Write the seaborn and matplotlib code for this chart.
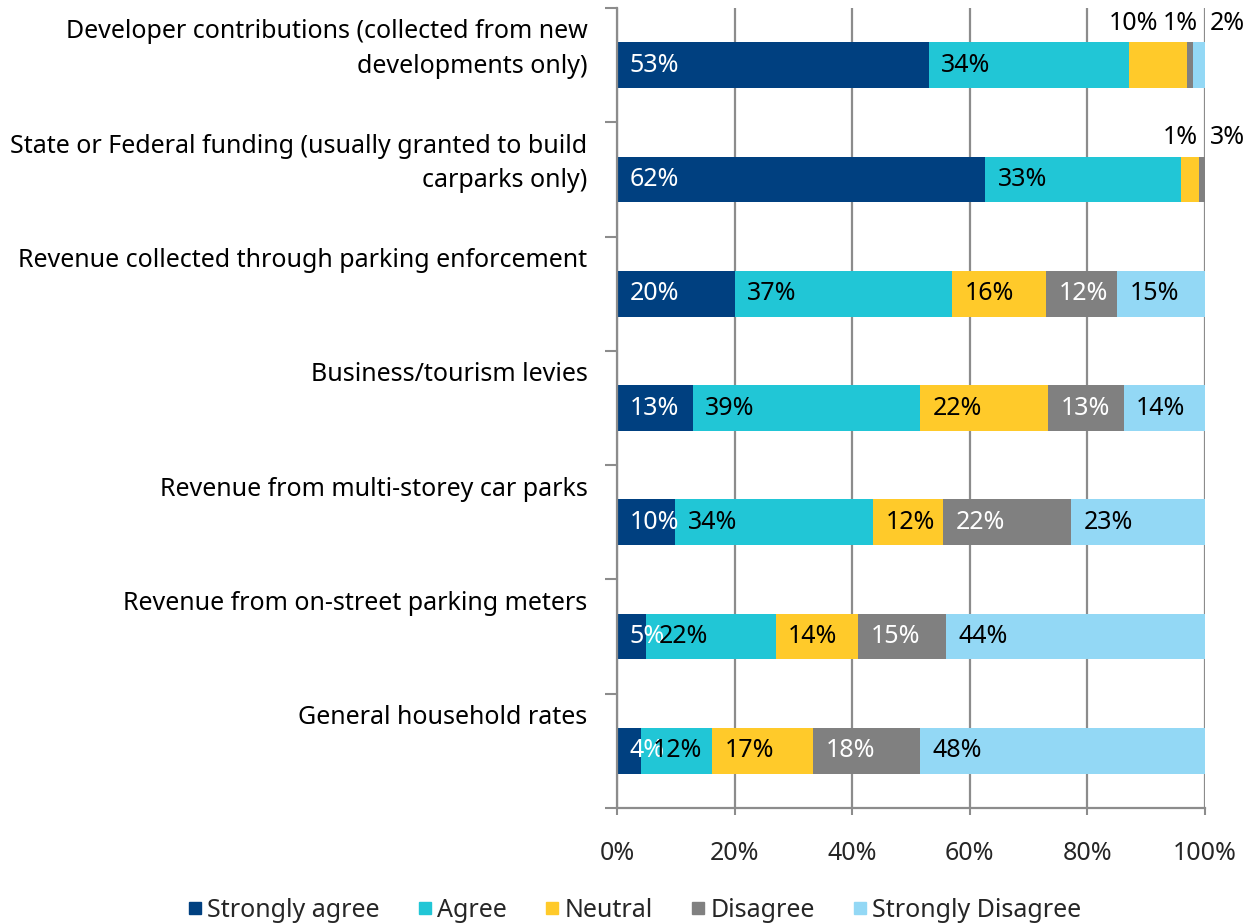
import numpy as np
import pandas as pd
import seaborn as sns
import matplotlib.pyplot as plt
import matplotlib.transforms as mtransforms
from matplotlib.lines import Line2D

# Funding sources rated by respondents (percent of responses)
categories = [
    "Developer contributions (collected from new\ndevelopments only)",
    "State or Federal funding (usually granted to build\ncarparks only)",
    "Revenue collected through parking enforcement",
    "Business/tourism levies",
    "Revenue from multi-storey car parks",
    "Revenue from on-street parking meters",
    "General household rates",
]
strongly_agree = [53, 62, 20, 13, 10, 5, 4]
agree = [34, 33, 37, 39, 34, 22, 12]
neutral = [10, 3, 16, 22, 12, 14, 17]
disagree = [1, 1, 12, 13, 22, 15, 18]
strongly_disagree = [2, 0, 15, 14, 23, 44, 48]

series_names = ["Strongly agree", "Agree", "Neutral", "Disagree", "Strongly Disagree"]
x_ticks = [0, 20, 40, 60, 80, 100]
x_tick_labels = ["0%", "20%", "40%", "60%", "80%", "100%"]

colors = ["#004080", "#21C6D6", "#FFCA2A", "#808080", "#93D8F5"]
text_colors = ["white", "black", "black", "white", "black"]

sns.set_theme(style="white")
plt.rcParams["font.family"] = ["Noto Sans", "DejaVu Sans"]
FS = 18
GRID = "#8C8C8C"

df = pd.DataFrame(
    {n: v for n, v in zip(series_names,
                          [strongly_agree, agree, neutral, disagree, strongly_disagree])},
    index=categories,
)
shares = df.div(df.sum(axis=1), axis=0) * 100
cum = shares.cumsum(axis=1)
starts = cum - shares

fig = plt.figure(figsize=(12.6, 9.23), dpi=100)
ax = fig.add_axes([0.4897, 0.1246, 0.4667, 0.8667])

# stacked bars: draw cumulative totals from the outermost segment inward
for name, col in reversed(list(zip(series_names, colors))):
    sns.barplot(x=cum[name].values, y=categories, orient="h", color=col,
                saturation=1, width=0.4, errorbar=None, linewidth=0, ax=ax)

ax.set_xlim(0, 100)
ax.set_ylim(len(categories) - 0.5, -0.5)
ax.set_xticks(x_ticks)
ax.set_xticklabels(x_tick_labels, fontsize=FS)
ax.xaxis.grid(True, color=GRID, linewidth=1.6)
ax.set_axisbelow(True)
ax.set_xlabel("")
ax.set_ylabel("")

# y ticks on category boundaries, labels drawn separately
ax.set_yticks(np.arange(-0.5, len(categories), 1.0))
ax.set_yticklabels([])
ax.tick_params(axis="y", direction="out", length=9, width=1.5, color=GRID, left=True)
ax.tick_params(axis="x", direction="out", length=5, width=1.5, color=GRID,
               bottom=True, pad=19)

for side in ["top", "right"]:
    ax.spines[side].set_visible(False)
for side in ["left", "bottom"]:
    ax.spines[side].set_color(GRID)
    ax.spines[side].set_linewidth(1.6)

blend = mtransforms.blended_transform_factory(ax.transAxes, ax.transData)
for i, cat in enumerate(categories):
    ax.text(-0.05, i - 0.5 + 0.1, cat, transform=blend, ha="right", va="top",
            multialignment="right", fontsize=FS, linespacing=1.5, color="black")

# labels of thin segments sit above the bar, near its right end
outside = {
    (0, "Neutral"): ("right", -34),
    (0, "Disagree"): ("right", -5),
    (0, "Strongly Disagree"): ("left", 3.5),
    (1, "Neutral"): ("left", 3.5),
    (1, "Disagree"): ("right", -5),
}

for i, cat in enumerate(categories):
    for j, name in enumerate(series_names):
        v = df.loc[cat, name]
        if v == 0:
            continue
        label = f"{v}%"
        if (i, name) in outside:
            ha, dx = outside[(i, name)]
            ax.annotate(label, xy=(100, i), xytext=(dx, 30), textcoords="offset points",
                        ha=ha, va="center", fontsize=FS, color="black",
                        annotation_clip=False)
        else:
            ax.annotate(label, xy=(starts.loc[cat, name], i), xytext=(9, 0),
                        textcoords="offset points", ha="left", va="center",
                        fontsize=FS, color=text_colors[j])

handles = [Line2D([0], [0], marker="s", linestyle="none", markersize=9,
                  markerfacecolor=c, markeredgecolor=c) for c in colors]
fig.legend(handles, series_names, loc="lower center", bbox_to_anchor=(0.503, -0.024),
           ncol=5, frameon=False, fontsize=FS, handlelength=0.7,
           handletextpad=0.15, columnspacing=1.45)

fig.savefig("out.png", dpi=100)
